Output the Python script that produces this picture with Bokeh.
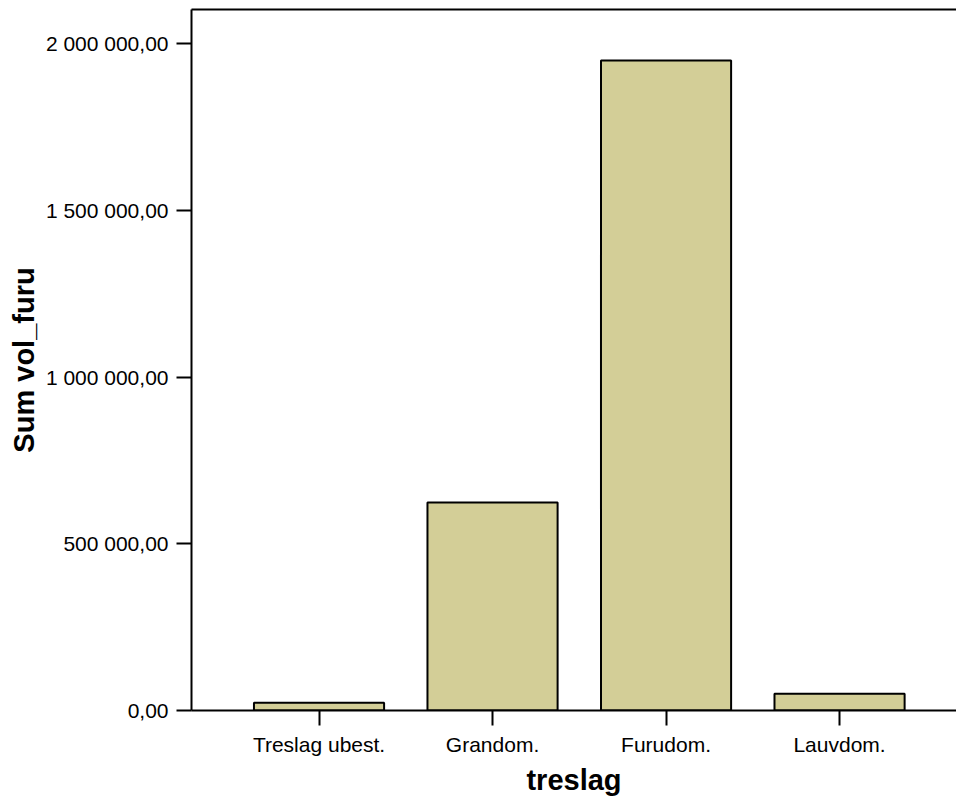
from bokeh.plotting import figure
from bokeh.models import Range1d, FixedTicker, LinearAxis
from bokeh.embed import file_html
from bokeh.resources import INLINE

categories = ["Treslag ubest.", "Grandom.", "Furudom.", "Lauvdom."]
values = [23000, 624000, 1949000, 50000]
y_ticks = [0, 500000, 1000000, 1500000, 2000000]
y_tick_labels = ["0,00", "500 000,00", "1 000 000,00", "1 500 000,00", "2 000 000,00"]

FONT = "Liberation Sans"
x = list(range(len(categories)))

p = figure(width=956, height=798, output_backend="svg", toolbar_location=None,
           x_range=Range1d(-0.735, 3.674), y_range=Range1d(0, 2102000),
           min_border_left=191, min_border_top=9, min_border_bottom=87,
           min_border_right=0)
p.vbar(x=x, top=values, width=0.75, bottom=0, fill_color="#D3CE97",
       line_color="black", line_width=2)

p.xgrid.visible = False
p.ygrid.visible = False
p.outline_line_color = None
p.background_fill_color = "white"
p.border_fill_color = "white"

xa = p.xaxis[0]
xa.ticker = FixedTicker(ticks=x)
xa.major_label_overrides = {i: c for i, c in zip(x, categories)}
xa.axis_label = "treslag"
xa.axis_label_text_font = FONT
xa.axis_label_text_font_style = "bold"
xa.axis_label_text_font_size = "29px"
xa.axis_label_standoff = 5
xa.major_label_text_font = FONT
xa.major_label_text_font_size = "21px"
xa.major_label_standoff = 7
xa.major_tick_out = 15
xa.major_tick_in = 0
xa.minor_tick_out = 0
xa.minor_tick_in = 0
xa.axis_line_width = 2
xa.major_tick_line_width = 2
xa.axis_line_color = "black"
xa.major_tick_line_color = "black"
xa.major_label_text_color = "black"
xa.axis_label_text_color = "black"

ya = p.yaxis[0]
ya.ticker = FixedTicker(ticks=y_ticks)
ya.major_label_overrides = {t: l for t, l in zip(y_ticks, y_tick_labels)}
ya.axis_label = "Sum vol_furu"
ya.axis_label_text_font = FONT
ya.axis_label_text_font_style = "bold"
ya.axis_label_text_font_size = "29px"
ya.axis_label_standoff = 3
ya.major_label_text_font = FONT
ya.major_label_text_font_size = "21px"
ya.major_label_standoff = 8
ya.major_tick_out = 15
ya.major_tick_in = 0
ya.minor_tick_out = 0
ya.minor_tick_in = 0
ya.axis_line_width = 2
ya.major_tick_line_width = 2
ya.axis_line_color = "black"
ya.major_tick_line_color = "black"
ya.major_label_text_color = "black"
ya.axis_label_text_color = "black"

top_axis = LinearAxis(ticker=FixedTicker(ticks=[]), major_label_text_font_size="0px",
                      major_tick_out=0, major_tick_in=0, minor_tick_out=0,
                      minor_tick_in=0, axis_line_width=2, axis_line_color="black",
                      major_label_standoff=0)
p.add_layout(top_axis, "above")

open("out.html", "w").write(file_html(p, INLINE))
